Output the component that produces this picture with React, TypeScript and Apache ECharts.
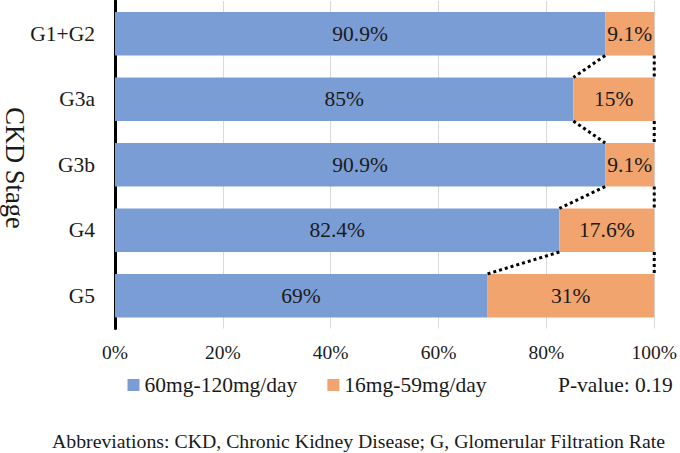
import React, { useEffect, useRef } from "react";
import * as echarts from "echarts";

const categories = ["G1+G2", "G3a", "G3b", "G4", "G5"];
const highDose = [90.9, 85, 90.9, 82.4, 69];
const lowDose = [9.1, 15, 9.1, 17.6, 31];
const seriesNames = ["60mg-120mg/day", "16mg-59mg/day"];
const xTicks = { min: 0, max: 100, interval: 20 };
const pValueText = "P-value: 0.19";
const footnote = "Abbreviations: CKD, Chronic Kidney Disease; G, Glomerular Filtration Rate";
const axisName = "CKD Stage";

const FONT = "Liberation Serif";

export default function App() {
  const ref = useRef<HTMLDivElement>(null);
  useEffect(() => {
    if (!ref.current) return;
    const chart = echarts.init(ref.current, null, { renderer: "svg" });
    const barRatio = 0.665;
    const linkData = highDose.slice(0, -1).map((v, i) => [v, i, highDose[i + 1], i + 1]);
    chart.setOption({
      animation: false,
      textStyle: { fontFamily: FONT },
      grid: { left: 115, right: 24, top: 1, bottom: 124.5, containLabel: false },
      xAxis: {
        type: "value",
        min: xTicks.min,
        max: xTicks.max,
        interval: xTicks.interval,
        axisLine: { show: false },
        axisTick: { show: false },
        splitLine: { show: true, lineStyle: { color: "#d9d9d9", width: 1 } },
        axisLabel: {
          formatter: "{value}%",
          fontFamily: FONT,
          fontSize: 19.5,
          color: "#1a1a1a",
          margin: 14,
        },
      },
      yAxis: {
        type: "category",
        inverse: true,
        data: categories,
        axisLine: { show: true, lineStyle: { color: "#000", width: 3 } },
        axisTick: { show: false },
        axisLabel: { fontFamily: FONT, fontSize: 21.5, color: "#1a1a1a", margin: 20 },
      },
      legend: {
        data: seriesNames,
        left: 122.5,
        top: 369,
        itemWidth: 12,
        itemHeight: 12,
        itemGap: 30,
        icon: "rect",
        textStyle: { fontFamily: FONT, fontSize: 21.5, color: "#1a1a1a", lineHeight: 22 },
      },
      graphic: [
        {
          type: "text",
          x: 558,
          y: 385,
          style: {
            text: pValueText,
            fontFamily: FONT,
            fontSize: 21.5,
            fill: "#1a1a1a",
            textAlign: "left",
            textVerticalAlign: "middle",
          },
        },
        {
          type: "text",
          x: 52,
          y: 441,
          style: {
            text: footnote,
            fontFamily: FONT,
            fontSize: 19.8,
            fill: "#1a1a1a",
            textAlign: "left",
            textVerticalAlign: "middle",
          },
        },
        {
          type: "text",
          x: 15,
          y: 168,
          rotation: -Math.PI / 2,
          style: {
            text: axisName,
            fontFamily: FONT,
            fontSize: 26.5,
            fill: "#1a1a1a",
            textAlign: "center",
            textVerticalAlign: "middle",
          },
        },
      ],
      series: [
        {
          name: seriesNames[0],
          type: "bar",
          stack: "total",
          barWidth: `${barRatio * 100}%`,
          data: highDose,
          itemStyle: { color: "#7B9DD5" },
          label: {
            show: true,
            position: "inside",
            formatter: "{c}%",
            fontFamily: FONT,
            fontSize: 21.5,
            color: "#1a1a1a",
          },
        },
        {
          name: seriesNames[1],
          type: "bar",
          stack: "total",
          barWidth: `${barRatio * 100}%`,
          data: lowDose,
          itemStyle: { color: "#F1A46E" },
          label: {
            show: true,
            position: "inside",
            formatter: "{c}%",
            fontFamily: FONT,
            fontSize: 21.5,
            color: "#1a1a1a",
          },
        },
        {
          type: "custom",
          name: "links",
          z: 10,
          data: linkData,
          encode: { x: [0, 2], y: [1, 3] },
          renderItem: (params: any, api: any) => {
            const band = api.size([0, 1])[1];
            const half = (band * barRatio) / 2;
            const a = api.coord([api.value(0), api.value(1)]);
            const b = api.coord([api.value(2), api.value(3)]);
            const ra = api.coord([xTicks.max, api.value(1)]);
            const rb = api.coord([xTicks.max, api.value(3)]);
            const style = { stroke: "#000", lineWidth: 3, lineDash: [3, 3], fill: null };
            return {
              type: "group",
              children: [
                { type: "line", shape: { x1: a[0], y1: a[1] + half, x2: b[0], y2: b[1] - half }, style },
                { type: "line", shape: { x1: ra[0], y1: ra[1] + half, x2: rb[0], y2: rb[1] - half }, style },
              ],
            };
          },
        },
      ],
    });
    return () => chart.dispose();
  }, []);
  return (
    <div
      ref={ref}
      style={{ position: "fixed", left: 0, top: 0, width: 680, height: 453, background: "#fff" }}
    />
  );
}
